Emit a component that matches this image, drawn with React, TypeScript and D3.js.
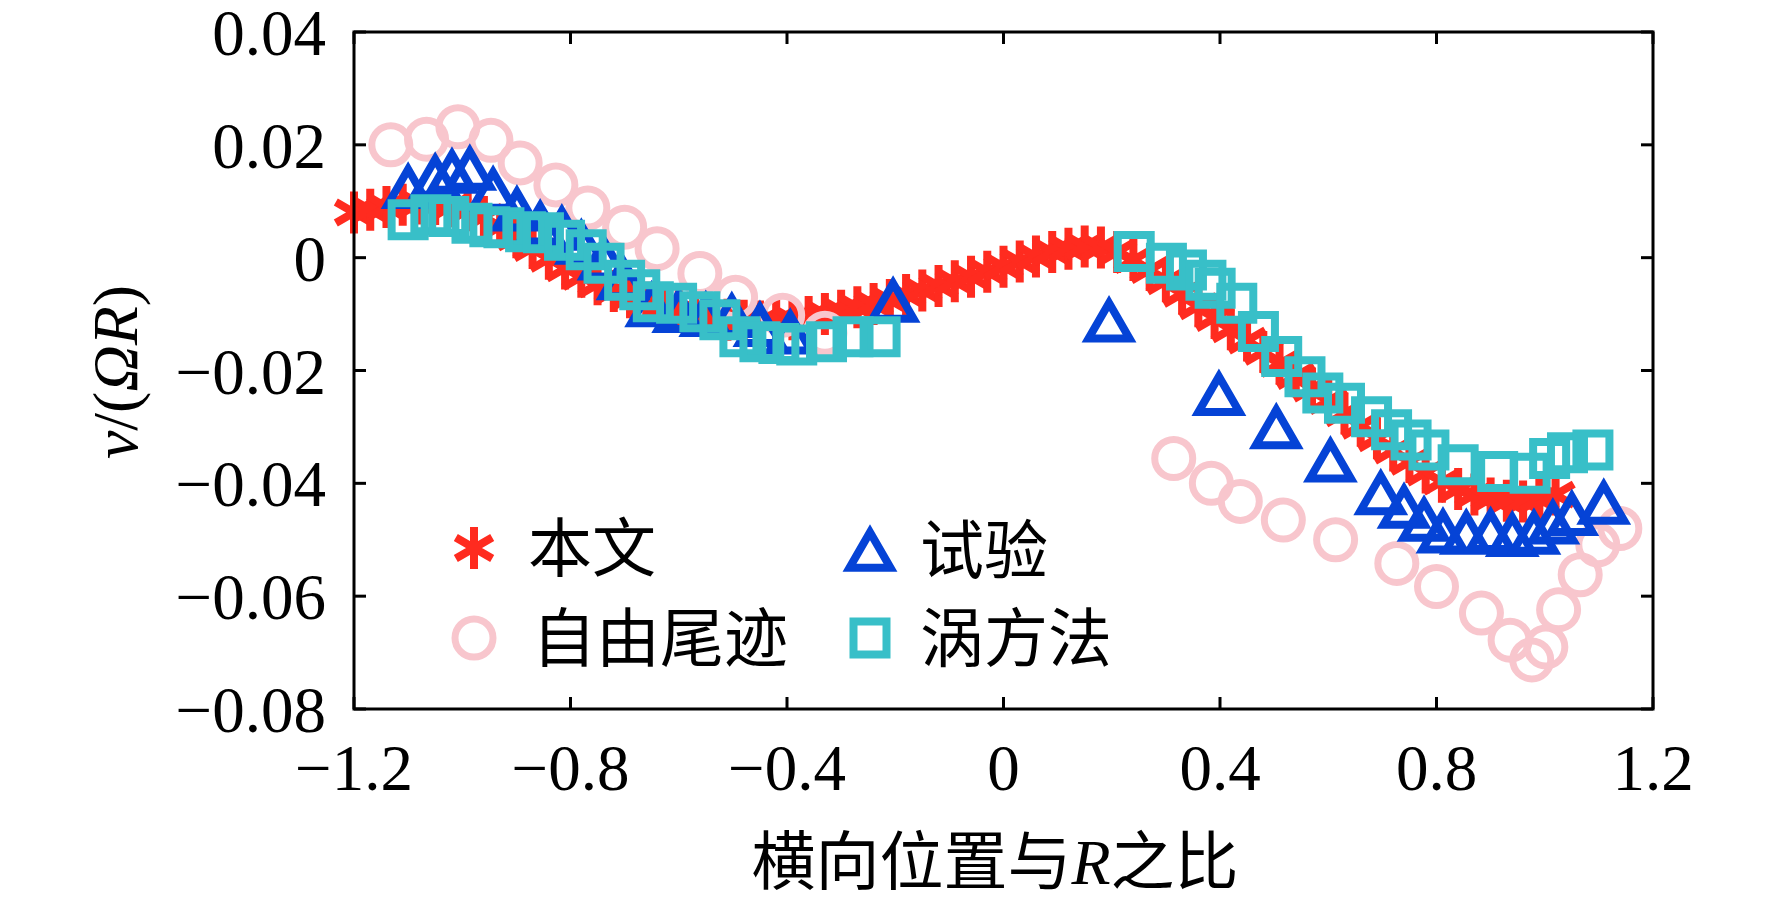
import React from "react";
import * as d3 from "d3";

type Pt = [number, number];

// 本文 (red asterisks)
const presentData: Pt[] = [
  [-1.2, 0.008], [-1.17, 0.0085], [-1.14, 0.009], [-1.11, 0.0094], [-1.08, 0.0096],
  [-1.05, 0.0095], [-1.02, 0.0091], [-0.99, 0.0084], [-0.96, 0.0072], [-0.93, 0.0055],
  [-0.9, 0.0036], [-0.87, 0.0017], [-0.84, -0.0002], [-0.81, -0.0019], [-0.78, -0.0034],
  [-0.75, -0.0047], [-0.72, -0.0059], [-0.69, -0.007], [-0.66, -0.008], [-0.63, -0.0088],
  [-0.6, -0.0095], [-0.57, -0.0101], [-0.54, -0.0106], [-0.51, -0.011], [-0.48, -0.0112],
  [-0.45, -0.0113], [-0.42, -0.0112], [-0.39, -0.0109], [-0.36, -0.0105], [-0.33, -0.01],
  [-0.3, -0.0094], [-0.27, -0.0088], [-0.24, -0.0082], [-0.21, -0.0075], [-0.18, -0.0066],
  [-0.15, -0.0058], [-0.12, -0.005], [-0.09, -0.0042], [-0.06, -0.0034], [-0.03, -0.0025],
  [0.0, -0.0016], [0.03, -0.0007], [0.06, 0.0002], [0.09, 0.001], [0.12, 0.0016],
  [0.15, 0.002], [0.18, 0.0018], [0.21, 0.001], [0.24, -0.0004], [0.27, -0.0022],
  [0.3, -0.0042], [0.33, -0.0064], [0.36, -0.0086], [0.39, -0.0107], [0.42, -0.0127],
  [0.45, -0.0147], [0.48, -0.0167], [0.51, -0.0188], [0.54, -0.021], [0.57, -0.0232],
  [0.6, -0.0254], [0.63, -0.0276], [0.66, -0.0298], [0.69, -0.032], [0.72, -0.0342],
  [0.75, -0.0362], [0.78, -0.0381], [0.81, -0.0397], [0.84, -0.041], [0.87, -0.042],
  [0.9, -0.0427], [0.93, -0.0431], [0.96, -0.0432], [0.99, -0.0428], [1.02, -0.042],
];

// 自由尾迹 (pink circles)
const freeWakeData: Pt[] = [
  [-1.132, 0.02], [-1.066, 0.021], [-1.008, 0.0232], [-0.947, 0.0208], [-0.893, 0.0168],
  [-0.827, 0.0129], [-0.768, 0.0088], [-0.7, 0.0054], [-0.64, 0.0016], [-0.561, -0.0028],
  [-0.495, -0.007], [-0.408, -0.0102], [-0.33, -0.0134],
  [0.3145, -0.0356], [0.384, -0.04], [0.4375, -0.0432], [0.517, -0.0465], [0.6136, -0.05],
  [0.7267, -0.0542], [0.8, -0.0583], [0.883, -0.063], [0.936, -0.0678], [0.976, -0.0713],
  [1.002, -0.069], [1.0256, -0.0624], [1.0655, -0.0562], [1.098, -0.0509], [1.1387, -0.048],
];

// 试验 (blue triangles)
const testData: Pt[] = [
  [-1.1, 0.0125], [-1.05, 0.0143], [-1.019, 0.0152], [-0.986, 0.0157], [-0.943, 0.012],
  [-0.899, 0.0085], [-0.856, 0.006], [-0.816, 0.0051], [-0.78, 0.0026], [-0.738, -0.0002],
  [-0.703, -0.0037], [-0.65, -0.0085], [-0.6, -0.0095], [-0.55, -0.0102], [-0.502, -0.0104],
  [-0.45, -0.012], [-0.394, -0.0133], [-0.204, -0.0077],
  [0.195, -0.0112], [0.398, -0.0242], [0.504, -0.0301], [0.604, -0.036], [0.697, -0.0418],
  [0.74, -0.0442], [0.777, -0.0465], [0.812, -0.0486], [0.855, -0.0488], [0.9, -0.0485],
  [0.94, -0.0492], [0.98, -0.0488], [1.015, -0.047], [1.05, -0.0455], [1.109, -0.0435],
];

// 涡方法 (cyan squares)
const vortexData: Pt[] = [
  [-1.1, 0.0067], [-1.058, 0.0076], [-1.025, 0.0073], [-0.982, 0.0061], [-0.949, 0.0055],
  [-0.923, 0.0053], [-0.883, 0.0046], [-0.85, 0.0044], [-0.811, 0.0031], [-0.771, 0.0014],
  [-0.738, -0.001], [-0.7, -0.004], [-0.672, -0.0057], [-0.647, -0.0078], [-0.604, -0.0081],
  [-0.561, -0.0096], [-0.524, -0.011], [-0.487, -0.014], [-0.45, -0.0149], [-0.415, -0.0152],
  [-0.382, -0.0155], [-0.327, -0.0149], [-0.278, -0.014], [-0.228, -0.014],
  [0.2415, 0.0011], [0.301, -0.001], [0.338, -0.0022], [0.374, -0.004], [0.391, -0.0054],
  [0.431, -0.0081], [0.471, -0.0131], [0.514, -0.0175], [0.557, -0.0211], [0.59, -0.024],
  [0.63, -0.0258], [0.68, -0.0282], [0.717, -0.0305], [0.753, -0.0323], [0.786, -0.0341],
  [0.84, -0.0367], [0.913, -0.0379], [0.973, -0.0382], [1.009, -0.0356], [1.042, -0.0346],
  [1.089, -0.0341],
];

const xTicks = [-1.2, -0.8, -0.4, 0, 0.4, 0.8, 1.2];
const yTicks = [0.04, 0.02, 0, -0.02, -0.04, -0.06, -0.08];

const legendLabels = ["本文", "自由尾迹", "试验", "涡方法"];

const W = 1772;
const H = 905;
const plot = { left: 354, right: 1653, top: 32, bottom: 709 };

const FONT = "'Liberation Serif', 'Noto Sans CJK SC', serif";
const RED = "#ff2b1f";
const PINK = "#f8c6cd";
const BLUE = "#0543d6";
const CYAN = "#38bfc8";

const x = d3.scaleLinear().domain([-1.2, 1.2]).range([plot.left, plot.right]);
const y = d3.scaleLinear().domain([-0.08, 0.04]).range([plot.bottom, plot.top]);

const starR = 21;
const starPath = d3.symbol(d3.symbolAsterisk, (starR / 0.59436) ** 2 - 0.75)()!;
const circlePath = d3.symbol(d3.symbolCircle, Math.PI * 19 * 19)()!;
const triPath = d3.symbol(d3.symbolTriangle, (Math.sqrt(3) / 4) * 41 * 41)()!;
const triShift = 5.9; // centre the triangle's bounding box on the point
const squarePath = d3.symbol(d3.symbolSquare, 33 * 33)()!;

const fmtY = (v: number) => (v === 0 ? "0" : d3.format(".2f")(v));
const fmtX = (v: number) => (v === 0 ? "0" : d3.format(".1f")(v));

const Marker = ({ kind, cx, cy }: { kind: string; cx: number; cy: number }) => {
  if (kind === "star")
    return <path d={starPath} transform={`translate(${cx},${cy})`} fill="none" stroke={RED} strokeWidth={8} />;
  if (kind === "circle")
    return <path d={circlePath} transform={`translate(${cx},${cy})`} fill="none" stroke={PINK} strokeWidth={7} />;
  if (kind === "tri")
    return (
      <path d={triPath} transform={`translate(${cx},${cy + triShift})`} fill="none" stroke={BLUE}
        strokeWidth={8} strokeLinejoin="miter" />
    );
  return <path d={squarePath} transform={`translate(${cx},${cy})`} fill="none" stroke={CYAN} strokeWidth={8} />;
};

const series = [
  { kind: "star", data: presentData },
  { kind: "circle", data: freeWakeData },
  { kind: "tri", data: testData },
  { kind: "square", data: vortexData },
];

const legendItems = [
  { kind: "star", label: legendLabels[0], mx: 474, my: 548, tx: 528 },
  { kind: "circle", label: legendLabels[1], mx: 474, my: 638, tx: 532 },
  { kind: "tri", label: legendLabels[2], mx: 870, my: 550, tx: 920 },
  { kind: "square", label: legendLabels[3], mx: 870, my: 638, tx: 920 },
];

export default function App() {
  const tickLen = 12;
  return (
    <svg width={W} height={H} style={{ position: "absolute", left: 0, top: 0, background: "#fff" }}
      fontFamily={FONT}>
      <rect width={W} height={H} fill="#fff" />

      {/* data */}
      <g>
        {series.map((s) =>
          s.data.map((d, i) => <Marker key={s.kind + i} kind={s.kind} cx={x(d[0])} cy={y(d[1])} />)
        )}
      </g>

      {/* frame and ticks */}
      <g stroke="#000" strokeWidth={3} fill="none">
        <rect x={plot.left} y={plot.top} width={plot.right - plot.left} height={plot.bottom - plot.top} />
        {xTicks.map((t) => (
          <g key={"xt" + t}>
            <line x1={x(t)} x2={x(t)} y1={plot.bottom} y2={plot.bottom - tickLen} />
            <line x1={x(t)} x2={x(t)} y1={plot.top} y2={plot.top + tickLen} />
          </g>
        ))}
        {yTicks.map((t) => (
          <g key={"yt" + t}>
            <line x1={plot.left} x2={plot.left + tickLen} y1={y(t)} y2={y(t)} />
            <line x1={plot.right} x2={plot.right - tickLen} y1={y(t)} y2={y(t)} />
          </g>
        ))}
      </g>

      {/* tick labels */}
      <g fontSize={65} fill="#000">
        {xTicks.map((t) => (
          <text key={"xl" + t} x={x(t)} y={790} textAnchor="middle">
            {fmtX(t)}
          </text>
        ))}
        {yTicks.map((t) => (
          <text key={"yl" + t} x={326} y={y(t) + 23} textAnchor="end">
            {fmtY(t)}
          </text>
        ))}
      </g>

      {/* axis titles */}
      <text x={995} y={884} textAnchor="middle" fontSize={64} fill="#000">
        <tspan fontFamily="'Noto Sans CJK SC'">横向位置与</tspan>
        <tspan fontStyle="italic">R</tspan>
        <tspan fontFamily="'Noto Sans CJK SC'">之比</tspan>
      </text>
      <text transform="translate(137,372) rotate(-90)" textAnchor="middle" fontSize={64} fill="#000">
        <tspan fontStyle="italic">v</tspan>
        <tspan>/(</tspan>
        <tspan fontStyle="italic">ΩR</tspan>
        <tspan>)</tspan>
      </text>

      {/* legend */}
      <g>
        {legendItems.map((l) => (
          <g key={l.label}>
            <Marker kind={l.kind} cx={l.mx} cy={l.my} />
            <text x={l.tx} y={l.my + 23} fontSize={64} fontFamily="'Noto Sans CJK SC'" fill="#000">
              {l.label}
            </text>
          </g>
        ))}
      </g>
    </svg>
  );
}
